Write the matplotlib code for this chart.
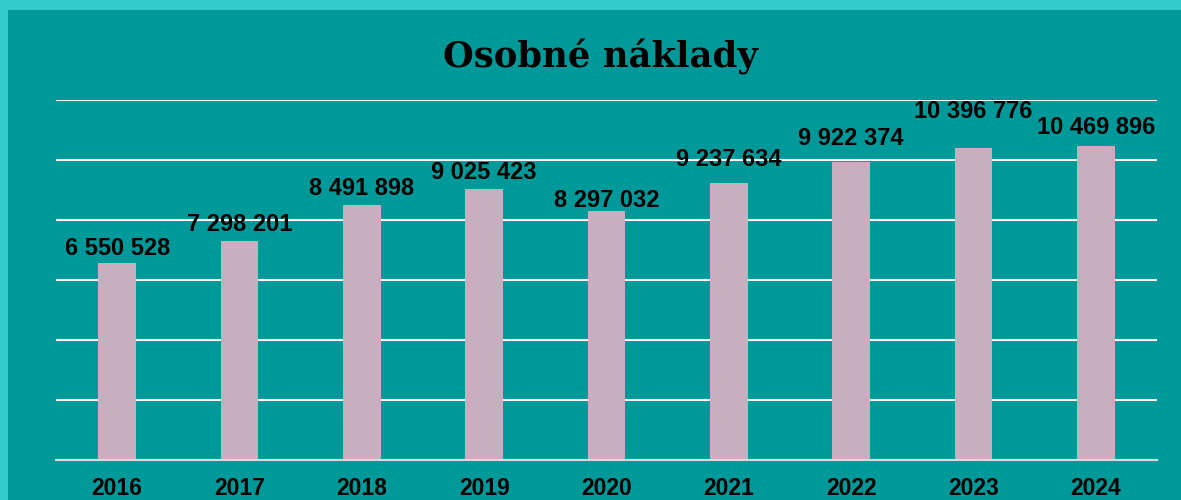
import matplotlib
matplotlib.use("Agg")
import matplotlib.pyplot as plt
from matplotlib.patches import Rectangle

years = ["2016", "2017", "2018", "2019", "2020", "2021", "2022", "2023", "2024"]
values = [6550528, 7298201, 8491898, 9025423, 8297032, 9237634, 9922374, 10396776, 10469896]
labels = ["6 550 528", "7 298 201", "8 491 898", "9 025 423", "8 297 032",
          "9 237 634", "9 922 374", "10 396 776", "10 469 896"]

# label vertical offsets (pixels above bar top, label centre)
label_offsets_px = [15, 17, 17, 17, 11, 23, 24, 37, 18]

BG = "#009999"
BORDER = "#33CCCC"
BAR = "#C9AEC0"

W, H = 1181, 500
fig = plt.figure(figsize=(W / 100, H / 100), dpi=100)
fig.patch.set_facecolor(BG)

# border strips (top and left)
fig.patches.append(Rectangle((0, 1 - 10 / H), 1, 10 / H, transform=fig.transFigure,
                             facecolor=BORDER, edgecolor="none", zorder=0))
fig.patches.append(Rectangle((0, 0), 8 / W, 1, transform=fig.transFigure,
                             facecolor=BORDER, edgecolor="none", zorder=0))

ax = fig.add_axes([56 / W, 40 / H, (1157 - 56) / W, 360 / H])
ax.set_facecolor(BG)

x = list(range(len(years)))
ax.bar(x, values, width=0.31, color=BAR, zorder=3)

ax.set_ylim(0, 12000000)
ax.set_xlim(-0.5, len(years) - 0.5)
ax.set_yticks(range(0, 12000001, 2000000))
ax.yaxis.grid(True, color="white", linewidth=1.5, zorder=1)
ax.tick_params(axis="y", left=False, labelleft=False)
ax.tick_params(axis="x", bottom=False, pad=9)
ax.set_xticks(x)
ax.set_xticklabels(years, fontsize=16.5, fontweight="bold", family="Liberation Sans", color="black")

for s in ["top", "left", "right"]:
    ax.spines[s].set_visible(False)
ax.spines["bottom"].set_color("#D9D9D9")
ax.spines["bottom"].set_linewidth(1.5)
ax.spines["bottom"].set_zorder(4)

for xi, v, lab, off in zip(x, values, labels, label_offsets_px):
    ax.annotate(lab, xy=(xi, v), xytext=(0, off * 0.72), textcoords="offset points",
                ha="center", va="center", fontsize=17, fontweight="bold",
                family="Liberation Sans", color="black", zorder=5)

fig.text(600 / W, 1 - 57 / H, "Osobné náklady", ha="center", va="center",
         fontsize=25.5, fontweight="bold", family="DejaVu Serif", color="black")

fig.savefig("out.png", dpi=100, facecolor=BG)
